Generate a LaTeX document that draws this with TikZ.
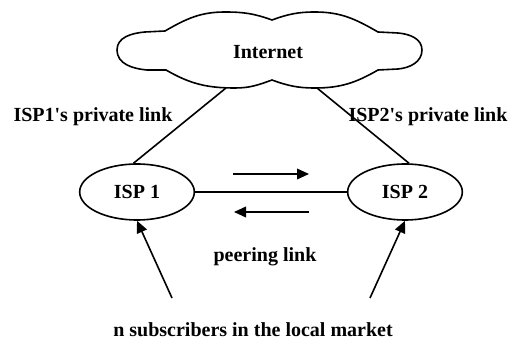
\documentclass[tikz,border=0pt]{standalone}
\usepackage{fontspec}
\setmainfont{Liberation Serif}[Ligatures=TeXOff]
\usetikzlibrary{arrows.meta,shapes.geometric}
\tikzset{isp/.style={draw,ellipse,line width=1.2pt,minimum width=86pt,minimum height=42pt,inner sep=0pt,font=\fontsize{15}{18}\selectfont\bfseries},
	lbl/.style={font=\fontsize{15}{18}\selectfont\bfseries}}
\begin{document}
\begin{tikzpicture}[x=0.75pt,y=0.75pt,>={Triangle[length=9pt,width=8pt]},line width=1.2pt]
		\useasboundingbox (0,0) rectangle (512,346);
		% the cloud
		\draw (165,315)--(145,314) to[out=185,in=90] (117,296) to[out=-90,in=175] (147,276)--(166,276)
			to[out=-30,in=180] (235,258) to[out=0,in=200] (272,266)
			to[out=-20,in=180] (315,258) to[out=0,in=210] (378,276)--(398,277)
			to[out=5,in=-90] (422,296) to[out=90,in=-5] (398,313)--(378,314)
			to[out=150,in=0] (315,334) to[out=180,in=20] (272,326)
			to[out=160,in=0] (225,334) to[out=180,in=30] cycle;
		\node[lbl] (inet) at (268,294) {Internet};
		\coordinate (cL) at (226,258);
		\coordinate (cR) at (317,258);
		\node[isp] (isp1) at (137,154) {ISP 1};
		\node[isp] (isp2) at (405,154) {ISP 2};
		\draw (cL)--(isp1.97);
		\draw (cR)--(isp2.82);
		\draw (isp1.east)--(isp2.west);
		\node[lbl] (priv1) at (93,229) {ISP1's private link};
		\node[lbl] (priv2) at (428,229) {ISP2's private link};
		\node[lbl] (peer) at (265,89) {peering link};
		\node[lbl] (subs) at (253,16) {n subscribers in the local market};
		% traffic both ways
		\coordinate (a1) at (233,172); \coordinate (a2) at (309,172);
		\coordinate (b1) at (309,134); \coordinate (b2) at (234,134);
		\draw[->] (a1)--(a2);
		\draw[->] (b1)--(b2);
		% subscribers
		\coordinate (s1) at (172,48);
		\coordinate (s2) at (370,48);
		\draw[->] (s1)--(isp1.south);
		\draw[->] (s2)--(isp2.south);
	\end{tikzpicture}
\end{document}
